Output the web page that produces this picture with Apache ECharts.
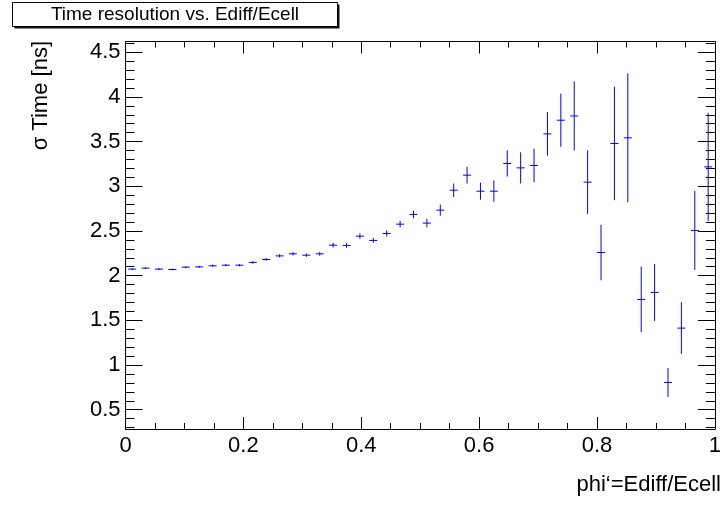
<!DOCTYPE html>
<html>
<head>
<meta charset="utf-8">
<script src="https://cdn.jsdelivr.net/npm/echarts@6/dist/echarts.min.js"></script>
<style>
  html, body { margin: 0; padding: 0; background: #ffffff; }
  #chart { width: 724px; height: 506px; }
</style>
</head>
<body>
<div id="chart"></div>
<script>
// Bin centres of phi' = Ediff/Ecell (44 bins over [0, 1])
const binCentres = [
  0.01136, 0.03409, 0.05682, 0.07955, 0.10227, 0.12500, 0.14773, 0.17045,
  0.19318, 0.21591, 0.23864, 0.26136, 0.28409, 0.30682, 0.32955, 0.35227,
  0.37500, 0.39773, 0.42045, 0.44318, 0.46591, 0.48864, 0.51136, 0.53409,
  0.55682, 0.57955, 0.60227, 0.62500, 0.64773, 0.67045, 0.69318, 0.71591,
  0.73864, 0.76136, 0.78409, 0.80682, 0.82955, 0.85227, 0.87500, 0.89773,
  0.92045, 0.94318, 0.96591, 0.98864
];

// Time resolution sigma [ns] per bin
const sigmaTime = [
  2.073, 2.084, 2.073, 2.069, 2.095, 2.098, 2.110, 2.117,
  2.117, 2.148, 2.181, 2.221, 2.244, 2.229, 2.244, 2.341,
  2.338, 2.442, 2.394, 2.472, 2.576, 2.685, 2.588, 2.733,
  2.956, 3.124, 2.945, 2.945, 3.255, 3.206, 3.233, 3.586,
  3.739, 3.787, 3.046, 2.259, 3.479, 3.542, 1.734, 1.812,
  0.805, 1.413, 2.506, 3.217
];

// Uncertainty on sigma [ns]
const sigmaErr = [
  0.012, 0.011, 0.011, 0.011, 0.011, 0.012, 0.012, 0.013,
  0.013, 0.014, 0.015, 0.017, 0.018, 0.019, 0.021, 0.026,
  0.026, 0.030, 0.028, 0.034, 0.037, 0.043, 0.047, 0.063,
  0.075, 0.093, 0.095, 0.120, 0.146, 0.175, 0.188, 0.244,
  0.298, 0.386, 0.356, 0.311, 0.634, 0.720, 0.367, 0.319,
  0.162, 0.289, 0.443, 0.606
];

// Axis tick labels
const xTickValues = [0, 0.2, 0.4, 0.6, 0.8, 1];
const yTickValues = [0.5, 1, 1.5, 2, 2.5, 3, 3.5, 4, 4.5];

const X_MIN = 0, X_MAX = 1;
const Y_MIN = 0.284, Y_MAX = 4.62;
// Horizontal half-extent of each error cross (fraction of bin, as with ErrorX)
const X_HALF = 0.0068;

// Minor y ticks every 0.1 that are not major ticks
const yMinorValues = [];
for (let k = 3; k <= 46; k++) {
  if (k % 5 !== 0) yMinorValues.push(k / 10);
}

const FONT = 'Liberation Sans, Arial, Helvetica, sans-serif';
const BLACK = '#000000';
const BLUE = '#0000ff';

const points = binCentres.map((x, i) => [x, sigmaTime[i], sigmaErr[i]]);

function xAxisDef(position, showLabel) {
  return {
    type: 'value', position: position, min: X_MIN, max: X_MAX, interval: 0.2,
    axisLine: { show: true, onZero: false, lineStyle: { color: BLACK, width: 1 } },
    axisTick: { show: true, inside: true, length: 12, lineStyle: { color: BLACK, width: 1 } },
    minorTick: { show: true, splitNumber: 4, length: 6, lineStyle: { color: BLACK, width: 1 } },
    axisLabel: {
      show: showLabel, customValues: xTickValues, margin: 6,
      fontSize: 22, fontFamily: FONT, color: BLACK
    },
    splitLine: { show: false }, minorSplitLine: { show: false }
  };
}

function yAxisDef(position, values, length, showLabel, showLine) {
  return {
    type: 'value', position: position, min: Y_MIN, max: Y_MAX,
    axisLine: { show: showLine, onZero: false, lineStyle: { color: BLACK, width: 1 } },
    axisTick: { show: true, inside: true, length: length, customValues: values,
                lineStyle: { color: BLACK, width: 1 } },
    axisLabel: {
      show: showLabel, customValues: values, margin: 5,
      fontSize: 22, fontFamily: FONT, color: BLACK
    },
    splitLine: { show: false }
  };
}

const chart = echarts.init(document.getElementById('chart'), null, { renderer: 'canvas' });

chart.setOption({
  animation: false,
  backgroundColor: '#ffffff',
  grid: { left: 125.5, right: 2, top: 41.5, bottom: 77, containLabel: false },
  xAxis: [xAxisDef('bottom', true), xAxisDef('top', false)],
  yAxis: [
    yAxisDef('left', yTickValues, 17, true, true),
    yAxisDef('left', yMinorValues, 9, false, false),
    yAxisDef('right', yTickValues, 17, false, true),
    yAxisDef('right', yMinorValues, 9, false, false)
  ],
  series: [{
    type: 'custom',
    xAxisIndex: 0,
    yAxisIndex: 0,
    clip: true,
    data: points,
    encode: { x: 0, y: 1 },
    renderItem: function (params, api) {
      const x = api.value(0), y = api.value(1), e = api.value(2);
      const lo = api.coord([x, y - e]);
      const hi = api.coord([x, y + e]);
      const left = api.coord([x - X_HALF, y]);
      const right = api.coord([x + X_HALF, y]);
      const style = { stroke: BLUE, lineWidth: 1 };
      return {
        type: 'group',
        children: [
          { type: 'line', shape: { x1: lo[0], y1: lo[1], x2: hi[0], y2: hi[1] }, style: style },
          { type: 'line', shape: { x1: left[0], y1: left[1], x2: right[0], y2: right[1] }, style: style }
        ]
      };
    }
  }],
  graphic: [
    // Title pave with drop shadow
    { type: 'rect', shape: { x: 14.5, y: 4.5, width: 325, height: 24 },
      style: { fill: '#111111' }, silent: true },
    { type: 'rect', shape: { x: 12.5, y: 2.5, width: 325, height: 24 },
      style: { fill: '#ffffff', stroke: BLACK, lineWidth: 1 }, silent: true },
    { type: 'text', x: 175, y: 15,
      style: { text: 'Time resolution vs. Ediff/Ecell', fontSize: 19, fontFamily: FONT,
               fill: BLACK, align: 'center', verticalAlign: 'middle' }, silent: true },
    // Axis titles
    { type: 'text', x: 41, y: 41, rotation: Math.PI / 2,
      style: { text: 'σ Time [ns]', fontSize: 22, fontFamily: FONT,
               fill: BLACK, align: 'right', verticalAlign: 'middle' }, silent: true },
    { type: 'text', x: 721, y: 485,
      style: { text: 'phi‘=Ediff/Ecell', fontSize: 22, fontFamily: FONT,
               fill: BLACK, align: 'right', verticalAlign: 'middle' }, silent: true }
  ]
});
</script>
</body>
</html>
